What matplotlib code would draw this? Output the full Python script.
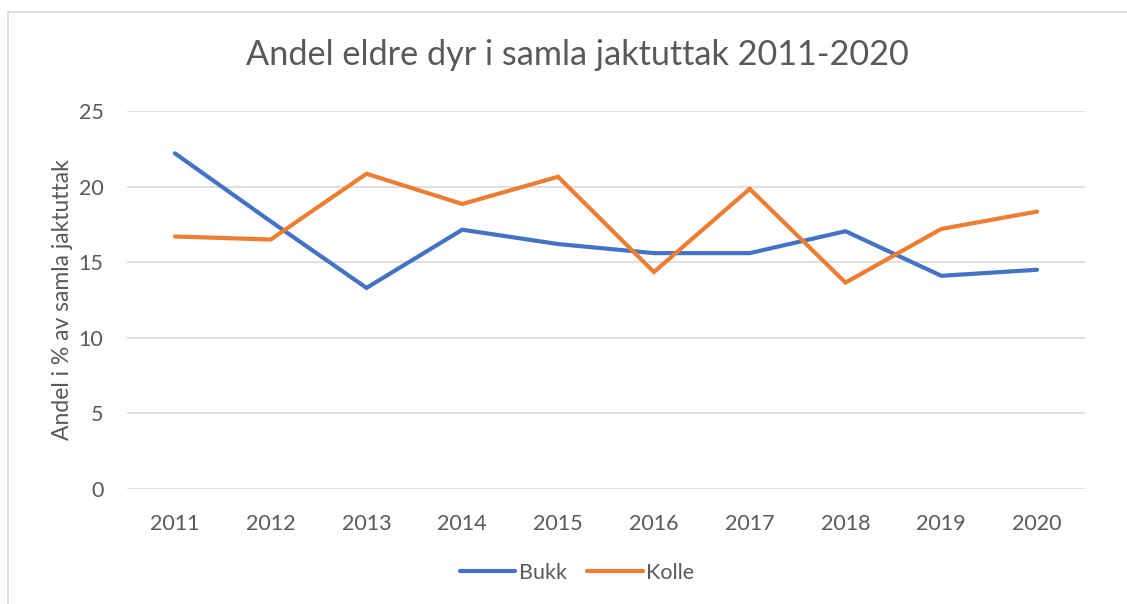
import matplotlib.pyplot as plt
from matplotlib.lines import Line2D

plt.rcParams['font.family'] = ['Lato', 'DejaVu Sans']

years = ['2011', '2012', '2013', '2014', '2015', '2016', '2017', '2018', '2019', '2020']
bukk = [22.2, 17.7, 13.3, 17.15, 16.2, 15.6, 15.6, 17.05, 14.1, 14.5]
kolle = [16.7, 16.5, 20.85, 18.85, 20.65, 14.35, 19.85, 13.65, 17.2, 18.35]

text_col = '#595959'
grid_col = '#D9D9D9'

fig = plt.figure(figsize=(11.27, 6.04), dpi=100)
ax = fig.add_axes([127 / 1127, 1 - 489 / 604, 958 / 1127, 378 / 604])

x = range(len(years))
ax.plot(x, bukk, color='#4472C4', lw=3.0, solid_capstyle='round', solid_joinstyle='miter', label='Bukk')
ax.plot(x, kolle, color='#ED7D31', lw=3.0, solid_capstyle='round', solid_joinstyle='miter', label='Kolle')

ax.set_xlim(-0.5, len(years) - 0.5)
ax.set_ylim(0, 25)
ax.set_yticks(range(0, 26, 5))
ax.set_xticks(list(x))
ax.set_xticklabels(years)
ax.grid(axis='y', color=grid_col, lw=1.2)
ax.set_axisbelow(True)
for s in ax.spines.values():
    s.set_visible(False)
ax.tick_params(length=0, labelsize=15.5, labelcolor=text_col)
ax.tick_params(axis='x', pad=18)
ax.tick_params(axis='y', pad=17)

ax.set_ylabel('Andel i % av samla jaktuttak', fontsize=16.5, color=text_col, labelpad=4)
fig.text(577 / 1127, 1 - 55 / 604, 'Andel eldre dyr i samla jaktuttak 2011-2020',
         ha='center', va='center', fontsize=24.7, color=text_col)

fig.legend(loc='center', bbox_to_anchor=(577 / 1127, 1 - 573 / 604), ncol=2, frameon=False,
           fontsize=15.5, handlelength=2.6, handletextpad=0.15, columnspacing=0.95,
           labelcolor=text_col)

# chart border (cropped: only left and top visible)
fig.add_artist(Line2D([7.5 / 1127, 7.5 / 1127], [0, 1 - 12 / 604], color='#D9D9D9', lw=1.2,
                      transform=fig.transFigure))
fig.add_artist(Line2D([7.5 / 1127, 1], [1 - 12 / 604, 1 - 12 / 604], color='#D9D9D9', lw=1.2,
                      transform=fig.transFigure))

fig.savefig('out.png', dpi=100)
